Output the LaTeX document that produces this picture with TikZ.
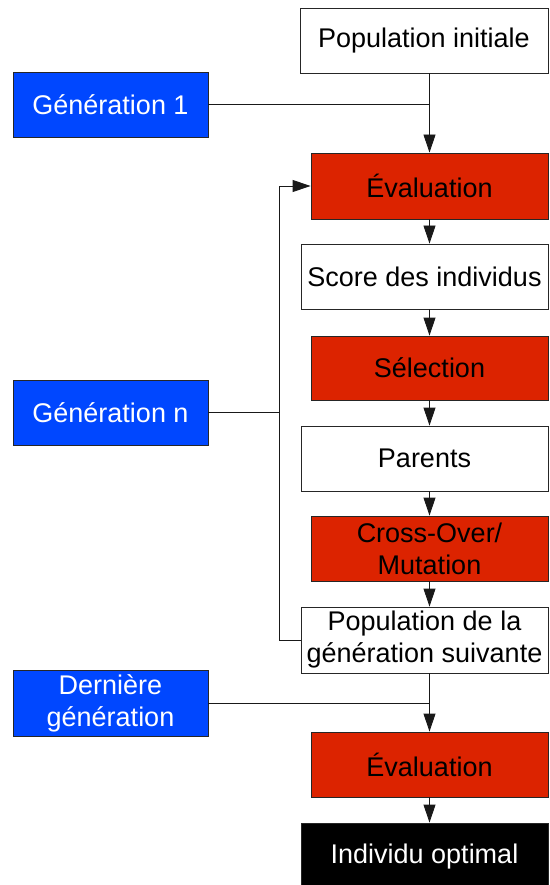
\documentclass[tikz,border=0pt]{standalone}
\usepackage{fontspec}
\setmainfont{Liberation Sans}
\usetikzlibrary{arrows.meta}
\definecolor{boxred}{HTML}{DC2300}
\definecolor{boxblue}{HTML}{0047FF}
\tikzset{
  base/.style={draw=black!85, line width=0.9pt, inner sep=0pt, align=center,
    font=\fontsize{27}{32}\selectfont},
  whitebox/.style={base, fill=white, text=black, minimum width=247pt, minimum height=65pt},
  redbox/.style={base, fill=boxred, text=black, minimum width=237pt, minimum height=65pt},
  bluebox/.style={base, fill=boxblue, text=white, minimum width=195pt, minimum height=65pt},
  blackbox/.style={base, fill=black, text=white, minimum width=247pt, minimum height=65pt},
  conn/.style={draw=black!90, line width=0.9pt},
  arr/.style={conn, -{Triangle[width=12pt,length=18pt]}}
}
\begin{document}
\begin{tikzpicture}[x=1pt,y=-1pt]
\useasboundingbox (0,0) rectangle (549,885);
\node[whitebox, minimum width=248pt] (popinit) at (424,40.5) {Population initiale};
\node[bluebox] (gen1) at (110.5,104.5) {Génération 1};
\node[redbox, minimum height=66pt] (eval1) at (429.5,186) {Évaluation};
\node[whitebox] (score) at (424.5,276.5) {Score des individus};
\node[redbox, minimum height=64pt] (sel) at (429.5,368) {Sélection};
\node[whitebox] (parents) at (424.5,458.5) {Parents};
\node[redbox] (cross) at (429.5,548.5) {Cross-Over/\\Mutation};
\node[whitebox, minimum height=66pt] (popsuiv) at (424.5,640) {Population de la\\génération suivante};
\node[bluebox] (genn) at (110.5,412.5) {Génération n};
\node[bluebox, minimum height=66pt] (dern) at (110.5,703) {Dernière\\génération};
\node[redbox] (eval2) at (429.5,764.5) {Évaluation};
\node[blackbox, minimum height=67pt] (indiv) at (424.5,856.5) {Individu optimal};
\coordinate (fbx) at (279,0);

\draw[arr] (eval1.north |- popinit.south) -- (eval1.north);
\draw[conn] (gen1.east) -- (gen1.east -| eval1.north);
\draw[arr] (eval1.south) -- (eval1.south |- score.north);
\draw[arr] (eval1.south |- score.south) -- (sel.north);
\draw[arr] (sel.south) -- (sel.south |- parents.north);
\draw[arr] (sel.south |- parents.south) -- (cross.north);
\draw[arr] (cross.south) -- (cross.south |- popsuiv.north);
\draw[arr] (popsuiv.west) -- (popsuiv.west -| fbx) |- (eval1.west);
\draw[conn] (genn.east) -- (genn.east -| fbx);
\draw[arr] (eval2.north |- popsuiv.south) -- (eval2.north);
\draw[conn] (dern.east) -- (dern.east -| eval2.north);
\draw[arr] (eval2.south) -- (eval2.south |- indiv.north);
\end{tikzpicture}
\end{document}
